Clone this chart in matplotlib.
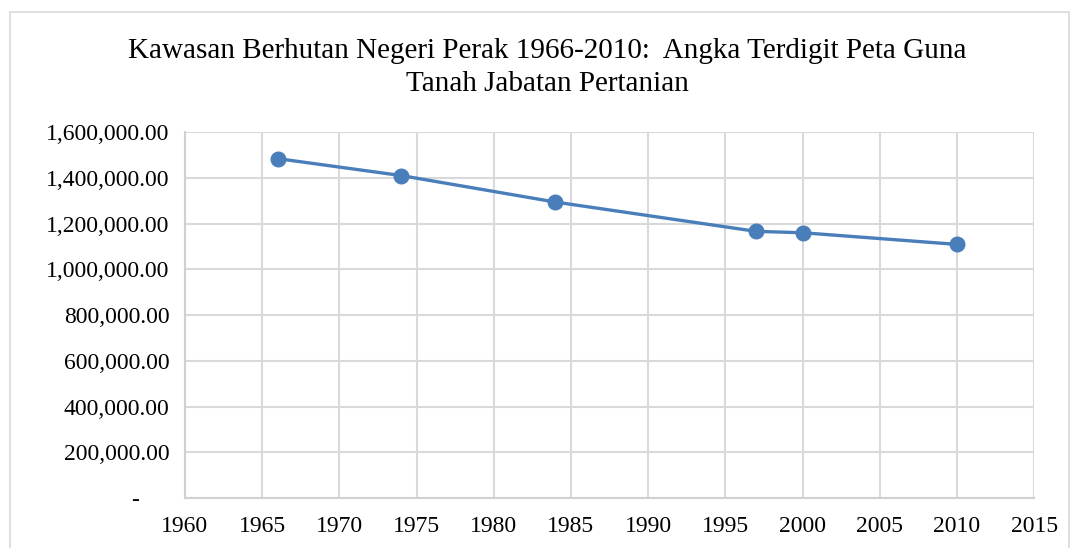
import matplotlib.pyplot as plt
from matplotlib.patches import Rectangle
from matplotlib.ticker import FuncFormatter, MultipleLocator

# --------------------------------
# Data
# --------------------------------
years = [1966, 1974, 1984, 1997, 2000, 2010]
forest_area = [1484000, 1410000, 1294000, 1166000, 1160000, 1109000]

title = ("Kawasan Berhutan Negeri Perak 1966-2010:  Angka Terdigit Peta Guna\n"
         "Tanah Jabatan Pertanian")

plt.rcParams["font.family"] = ["Liberation Serif", "DejaVu Serif"]

fig = plt.figure(figsize=(10.75, 5.48), dpi=100)
ax = fig.add_axes([0.172, 0.091, 0.79, 0.668])

# chart border
fig.patches.append(Rectangle((0.009, -0.02), 0.985, 0.998, transform=fig.transFigure,
                             fill=False, edgecolor="#d9d9d9", linewidth=1.2))

ax.plot(years, forest_area, color="#4a7ebb", linewidth=2.4,
        marker="o", markersize=10.5, markerfacecolor="#4a7ebb",
        markeredgecolor="#4a7ebb", zorder=3)

ax.set_xlim(1960, 2015)
ax.set_ylim(0, 1600000)
ax.xaxis.set_major_locator(MultipleLocator(5))
ax.yaxis.set_major_locator(MultipleLocator(200000))


def fmt(v, pos):
    if v == 0:
        return "-     "
    return f"{v:,.2f}"


ax.yaxis.set_major_formatter(FuncFormatter(fmt))
ax.tick_params(axis="both", length=0, labelsize=17, colors="black")
ax.tick_params(axis="y", pad=11)
ax.tick_params(axis="x", pad=13)

ax.grid(True, color="#d9d9d9", linewidth=1.5)
ax.set_axisbelow(True)
for side in ["top", "right"]:
    ax.spines[side].set_visible(False)
for side in ["left", "bottom"]:
    ax.spines[side].set_color("#d0d0d0")
    ax.spines[side].set_linewidth(1.5)

fig.text(0.509, 0.877, title, ha="center", va="center", fontsize=21,
         linespacing=1.38)

fig.savefig("out.png", dpi=100)
